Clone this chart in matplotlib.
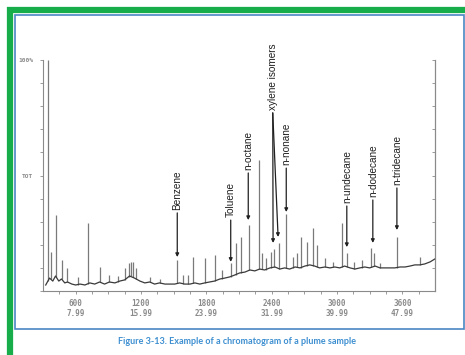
import numpy as np
import matplotlib
matplotlib.use("Agg")
import matplotlib.pyplot as plt
from matplotlib.patches import Rectangle

# ---------------- data (scan number, % of full scale) ----------------
baseline_scan = [325, 360, 390, 415, 445, 470, 500, 525, 565, 600,
                 640, 685, 730, 775, 820, 865, 910, 960, 1005, 1050,
                 1095, 1140, 1190, 1235, 1280, 1325, 1370, 1420, 1465, 1510,
                 1555, 1600, 1650, 1695, 1740, 1785, 1830, 1875, 1925, 1970,
                 2015, 2060, 2105, 2155, 2200, 2245, 2290, 2335, 2385, 2430,
                 2475, 2520, 2565, 2615, 2660, 2705, 2750, 2795, 2840, 2890,
                 2935, 2980, 3025, 3070, 3120, 3165, 3210, 3255, 3300, 3350,
                 3395, 3440, 3485, 3530, 3580, 3625, 3670, 3715, 3760, 3805,
                 3855, 3900]
baseline_pct = [2.6, 5.6, 4.3, 6.5, 4.3, 5.2, 3.5, 3.9, 3.0, 2.6,
                3.0, 2.6, 3.5, 3.0, 3.9, 3.0, 3.9, 3.5, 4.3, 4.8,
                6.5, 5.6, 4.3, 3.5, 3.9, 3.0, 3.5, 3.0, 3.0, 3.0,
                3.5, 3.0, 3.0, 3.5, 3.0, 3.5, 3.9, 4.3, 5.2, 5.6,
                6.1, 6.9, 7.8, 8.2, 9.1, 8.7, 9.5, 9.1, 10.0, 10.4,
                9.5, 10.0, 9.5, 10.4, 10.0, 10.8, 11.3, 10.8, 10.0, 10.4,
                10.0, 10.4, 10.0, 10.8, 10.0, 9.5, 10.0, 10.4, 10.0, 10.8,
                10.0, 10.0, 10.0, 10.0, 10.4, 10.4, 10.8, 11.3, 11.3, 11.7,
                12.6, 13.9]

peak_scan = [343, 370, 421, 471, 517, 618, 710, 821, 903, 986,
             1050, 1087, 1105, 1124, 1151, 1280, 1372, 1533, 1583, 1629,
             1675, 1786, 1877, 1941, 2024, 2070, 2116, 2194, 2286, 2309,
             2346, 2392, 2424, 2466, 2534, 2594, 2631, 2668, 2723, 2778,
             2815, 2888, 2962, 3044, 3088, 3154, 3228, 3311, 3338, 3393,
             3550, 3761]
peak_pct = [100.0, 16.9, 32.9, 13.4, 10.0, 6.1, 29.4, 10.4, 6.9, 6.5,
            10.0, 12.1, 12.6, 12.6, 10.0, 6.1, 5.2, 13.4, 6.9, 6.9,
            14.7, 14.3, 15.6, 9.1, 12.1, 20.8, 23.4, 28.6, 56.7, 16.5,
            14.3, 16.9, 18.2, 20.8, 33.3, 14.7, 16.5, 23.4, 21.2, 27.3,
            19.9, 14.3, 12.6, 29.4, 16.5, 12.6, 13.4, 18.6, 16.5, 12.1,
            23.4, 14.7]

label_names = ["Benzene", "Toluene", "n-octane", "xylene isomers",
               "n-nonane", "n-undecane", "n-dodecane", "n-tridecane"]
label_scan = [1533, 2024, 2185, 2410, 2534, 3090, 3329, 3550]
label_bottom_pct = [35.1, 32.0, 52.4, 78.4, 54.5, 38.1, 40.7, 45.9]
arrow_tip_scan = [[1533], [2024], [2185], [2413, 2459], [2534], [3090], [3329], [3550]]
arrow_tip_pct = [[14.7], [12.6], [30.7], [20.8, 23.4], [34.2], [19.0], [20.8], [26.4]]

xtick_scan = [600, 1200, 1800, 2400, 3000, 3600]
xtick_time = ["7.99", "15.99", "23.99", "31.99", "39.99", "47.99"]

caption = "Figure 3-13. Example of a chromatogram of a plume sample"

# ---------------- figure ----------------
W, H = 465, 355
fig = plt.figure(figsize=(W / 100, H / 100), dpi=100)
fig.patch.set_facecolor("white")

def fx(px):
    return px / W

def fy(py):
    return 1 - py / H

# frames
fig.patches.append(Rectangle((fx(10), fy(420)), fx(520), fy(10) - fy(420),
                             transform=fig.transFigure, fill=False,
                             edgecolor="#17ad4a", linewidth=4.5))
fig.patches.append(Rectangle((fx(14.5), fy(329)), fx(464) - fx(14.5), fy(14.5) - fy(329),
                             transform=fig.transFigure, fill=False,
                             edgecolor="#4a86c5", linewidth=1.2))

ax = fig.add_axes([fx(43), fy(291), fx(435) - fx(43), fy(60) - fy(291)])
ax.set_xlim(300, 3900)
ax.set_ylim(0, 100)
ax.set_facecolor("none")

bx = np.array(baseline_scan, dtype=float)
by = np.array(baseline_pct, dtype=float)
px_ = np.array(peak_scan, dtype=float)
ph = np.array(peak_pct, dtype=float)
pbase = np.interp(px_, bx, by)

ax.vlines(px_, pbase, ph, colors="#7a7a7a", linewidth=0.9, clip_on=False, zorder=2)
ax.plot(bx, by, color="#3a3a3a", linewidth=0.9, zorder=3, clip_on=False)

# spines
for s in ["left", "bottom", "right"]:
    ax.spines[s].set_color("#8a8a8a")
    ax.spines[s].set_linewidth(0.8)
ax.spines["top"].set_visible(False)

ax.set_yticks(np.arange(0, 101, 10))
ylabels = [""] * 11
ylabels[5] = "TOT"
ylabels[10] = "100%"
ax.set_yticklabels(ylabels, fontfamily="DejaVu Sans Mono", fontsize=4.5,
                   color="#8a8a8a", fontweight="bold")
ax.tick_params(axis="y", direction="out", length=2, width=0.6, color="#8a8a8a", pad=5)

ax.set_xticks(xtick_scan)
ax.set_xticklabels([f"{s}\n{t}" for s, t in zip(xtick_scan, xtick_time)],
                   fontfamily="DejaVu Sans Mono", fontsize=5.5, color="#8a8a8a",
                   fontweight="bold", linespacing=1.15)
ax.set_xticks(np.arange(450, 3900, 150), minor=True)
ax.tick_params(axis="x", which="both", direction="out", length=2, width=0.6,
               color="#8a8a8a", pad=4)

ax2 = ax.twinx()
ax2.set_ylim(0, 100)
ax2.set_yticks(np.arange(0, 101, 10))
ax2.set_yticklabels([])
ax2.tick_params(axis="y", direction="in", length=2, width=0.6, color="#8a8a8a")
for s in ["left", "bottom", "top"]:
    ax2.spines[s].set_visible(False)
ax2.spines["right"].set_color("#8a8a8a")
ax2.spines["right"].set_linewidth(0.8)

# compound labels and arrows
for name, lx, lb, tsx, tsy in zip(label_names, label_scan, label_bottom_pct,
                                  arrow_tip_scan, arrow_tip_pct):
    ax.text(lx, lb, name, rotation=90, ha="center", va="bottom",
            fontfamily="Liberation Sans", fontsize=7.2, color="#202020",
            clip_on=False, zorder=5)
    for tx, ty in zip(tsx, tsy):
        ax.annotate("", xy=(tx, ty), xytext=(lx, lb - 1.3),
                    arrowprops=dict(arrowstyle="-|>", color="#202020", lw=0.9,
                                    shrinkA=0, shrinkB=0, mutation_scale=5),
                    annotation_clip=False, zorder=5)

fig.text(fx(237), fy(341), caption, ha="center", va="center",
         fontfamily="Lato", fontweight="bold", fontsize=6.5, color="#3d8fd1")

fig.savefig("out.png", dpi=100, facecolor="white")
